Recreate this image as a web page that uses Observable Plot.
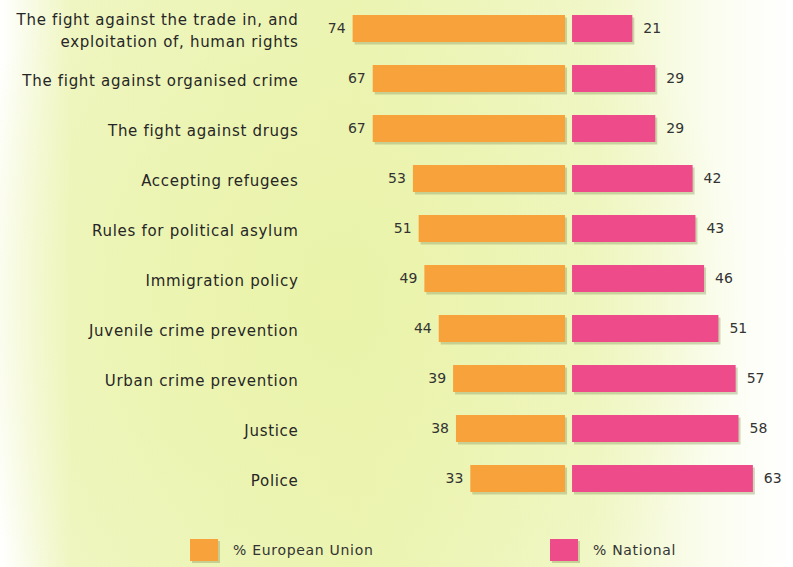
<!DOCTYPE html>
<html>
<head>
<meta charset="utf-8">
<script src="https://cdn.jsdelivr.net/npm/d3@7"></script>
<script src="https://cdn.jsdelivr.net/npm/@observablehq/plot@0.6"></script>
<style>
  html, body { margin: 0; padding: 0; }
  body {
    width: 793px; height: 567px; overflow: hidden;
    font-family: "DejaVu Sans", sans-serif;
    background:
      radial-gradient(ellipse 420px 380px at 330px 300px, rgba(234,243,168,0.9), rgba(234,243,168,0) 100%),
      linear-gradient(to right, #ffffff 0%, #eff6c2 9%, #ecf4b4 45%, #f1f7c8 75%, #fbfdf0 90%, #ffffff 100%);
  }
  #chart svg g[aria-label="y-axis tick label"] text { letter-spacing: 0.7px; }
  #legend { position: relative; height: 64px; font-size: 14px; color: #333; letter-spacing: 0.7px; }
  .item { position: absolute; top: 36px; display: flex; align-items: center; }
  .sw { width: 28px; height: 22px; margin-right: 15px; box-shadow: 2px 2px 0 rgba(150,160,100,0.45); }
</style>
</head>
<body>
<div id="chart"></div>
<div id="legend"></div>
<script>
const categories = [
  "The fight against the trade in, and\nexploitation of, human rights",
  "The fight against organised crime",
  "The fight against drugs",
  "Accepting refugees",
  "Rules for political asylum",
  "Immigration policy",
  "Juvenile crime prevention",
  "Urban crime prevention",
  "Justice",
  "Police"
];
const euValues = [74, 67, 67, 53, 51, 49, 44, 39, 38, 33];
const nationalValues = [21, 29, 29, 42, 43, 46, 51, 57, 58, 63];
const seriesNames = ["% European Union", "% National"];
const colors = ["#f8a23b", "#ee4b8b"];

const data = categories.map((c, i) => ({cat: c, eu: euValues[i], nat: nationalValues[i]}));

const chart = Plot.plot({
  width: 793,
  height: 503,
  marginLeft: 310,
  marginRight: 0,
  marginTop: 4,
  marginBottom: 0,
  style: {background: "transparent", fontFamily: "'DejaVu Sans', sans-serif"},
  x: {domain: [-90.07, 78.2], axis: null},
  y: {domain: categories, paddingInner: 0.46, paddingOuter: 0.2, label: null},
  marks: [
    Plot.axisY({tickSize: 0, tickPadding: 12, fontSize: 15, lineHeight: 1.45, fill: "#262626", label: null}),
    // shadows
    Plot.barX(data, {y: "cat", x1: d => -d.eu, x2: 0, dx: -1.5, dy: 2.5, fill: "#9aa36a", fillOpacity: 0.45}),
    Plot.barX(data, {y: "cat", x1: 0, x2: "nat", dx: 5.5, dy: 2.5, fill: "#9aa36a", fillOpacity: 0.45}),
    // bars
    Plot.barX(data, {y: "cat", x1: d => -d.eu, x2: 0, dx: -3.5, fill: colors[0]}),
    Plot.barX(data, {y: "cat", x1: 0, x2: "nat", dx: 3.5, fill: colors[1]}),
    // values
    Plot.text(data, {y: "cat", x: d => -d.eu, text: "eu", textAnchor: "end", dx: -11, fontSize: 14, fill: "#333"}),
    Plot.text(data, {y: "cat", x: "nat", text: "nat", textAnchor: "start", dx: 14, fontSize: 14, fill: "#333"})
  ]
});
document.getElementById("chart").appendChild(chart);

const legend = document.getElementById("legend");
const lefts = [190, 550];
seriesNames.forEach((name, i) => {
  const item = document.createElement("div");
  item.className = "item";
  item.style.left = lefts[i] + "px";
  const sw = document.createElement("div");
  sw.className = "sw";
  sw.style.background = colors[i];
  const t = document.createElement("span");
  t.textContent = name;
  item.appendChild(sw);
  item.appendChild(t);
  legend.appendChild(item);
});
</script>
</body>
</html>
